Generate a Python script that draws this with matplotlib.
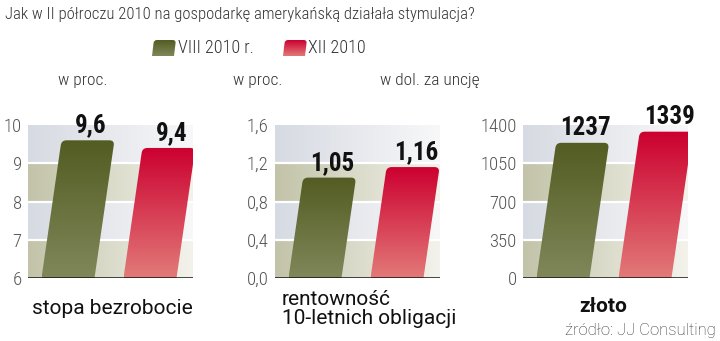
import numpy as np
import matplotlib.pyplot as plt
from matplotlib.path import Path
from matplotlib.patches import PathPatch
from matplotlib.colors import to_rgb
from matplotlib import font_manager
from matplotlib.font_manager import FontProperties

# dane
series = ['VIII 2010 r.', 'XII 2010']
unemployment = [9.6, 9.4]
bond_yield = [1.05, 1.16]
gold = [1237, 1339]

ticks_unemp = [6, 7, 8, 9, 10]
ticks_bond = [0.0, 0.4, 0.8, 1.2, 1.6]
ticks_gold = [0, 350, 700, 1050, 1400]
ticklabels_unemp = ['6', '7', '8', '9', '10']
ticklabels_bond = ['0,0', '0,4', '0,8', '1,2', '1,6']
ticklabels_gold = ['0', '350', '700', '1050', '1400']
value_labels_unemp = ['9,6', '9,4']
value_labels_bond = ['1,05', '1,16']
value_labels_gold = ['1237', '1339']

units = ['w proc.', 'w proc.', 'w dol. za uncję']
categories = ['stopa bezrobocie', 'rentowność\n10-letnich obligacji', 'złoto']
title = 'Jak w II półroczu 2010 na gospodarkę amerykańską działała stymulacja?'
source = 'źródło: JJ Consulting'


def font_ok(name):
    try:
        font_manager.findfont(name, fallback_to_default=False)
        return True
    except Exception:
        return False


# szukamy jakiegos waskiego kroju
if font_ok('Roboto Condensed'):
    NARROW = dict(family='Roboto Condensed')
    COND = True
elif font_ok('Liberation Sans Narrow'):
    NARROW = dict(family='Liberation Sans Narrow')
    COND = True
elif 'Condensed' in font_manager.findfont(FontProperties(family='DejaVu Sans', stretch='condensed')):
    NARROW = dict(family='DejaVu Sans', stretch='condensed')
    COND = True
else:
    NARROW = dict(family='Roboto' if font_ok('Roboto') else 'DejaVu Sans')
    COND = False
REG = 'Roboto' if font_ok('Roboto') else 'DejaVu Sans'

W, H = 720, 341
green = ('#535c22', '#80875a')
red = ('#cc0030', '#e27a78')
band_grey = ('#d6dae2', '#f8f8f9')
band_olive = ('#c2c3a8', '#f3f3ec')


def fx(px):
    return px / W


def fy(py):
    return 1 - py / H


def grad(c1, c2, n=256, horizontal=False):
    a, b = np.array(to_rgb(c1)), np.array(to_rgb(c2))
    t = np.linspace(0, 1, n)[:, None]
    g = a * (1 - t) + b * t
    if horizontal:
        return g[None, :, :]
    return g[:, None, :]


def slanted_bar(ax, cx, by, ty, hw, slant, r, colors):
    # geometria w pikselach ekranu, zamieniana na dane osi
    s = slant * (ty - by)
    bl = np.array([cx - hw, by])
    br = np.array([cx + hw, by])
    tr = np.array([cx + s + hw, ty])
    tl = np.array([cx + s - hw, ty])
    u = np.array([s, ty - by]) / np.hypot(s, ty - by)
    pts = [bl, br, tr - r * u, tr, tr - [r, 0], tl + [r, 0], tl, tl - r * u, bl]
    codes = [Path.MOVETO, Path.LINETO, Path.LINETO, Path.CURVE3, Path.CURVE3,
             Path.LINETO, Path.CURVE3, Path.CURVE3, Path.CLOSEPOLY]
    inv = ax.transData.inverted()
    verts = inv.transform(np.array(pts))
    patch = PathPatch(Path(verts, codes), facecolor='none', edgecolor='none', zorder=2)
    ax.add_patch(patch)
    x0, y0 = inv.transform((cx - hw, by))
    x1, y1 = inv.transform((cx + s + hw, ty))
    im = ax.imshow(grad(*colors), extent=[x0, x1, y0, y1], origin='upper',
                   aspect='auto', interpolation='bicubic', zorder=2)
    im.set_clip_path(patch)


fig = plt.figure(figsize=(W / 100, H / 100), dpi=100)

panels = [
    (unemployment, ticks_unemp, ticklabels_unemp, value_labels_unemp, 28),
    (bond_yield, ticks_bond, ticklabels_bond, value_labels_bond, 275),
    (gold, ticks_gold, ticklabels_gold, value_labels_gold, 523),
]
ax_top, ax_bot, ax_w = 125, 278, 165
step_px, first_px, bar_hw = 82, 40, 26.5

for values, ticks, tlabels, vlabels, left in panels:
    ax = fig.add_axes([fx(left), fy(ax_bot), ax_w / W, (ax_bot - ax_top) / H])
    xmin = -first_px / step_px
    xmax = xmin + ax_w / step_px
    ax.set_xlim(xmin, xmax)
    ax.set_ylim(ticks[0], ticks[-1])

    # tlo w pasy z gradientem
    for i in range(len(ticks) - 1):
        cols = band_olive if i % 2 == 0 else band_grey
        ax.imshow(grad(*cols, horizontal=True), extent=[xmin, xmax, ticks[i], ticks[i + 1]],
                  aspect='auto', interpolation='bicubic', zorder=0)
    for t in ticks[1:-1]:
        ax.axhline(t, color='white', lw=1.6, zorder=1)
    ax.axhline(ticks[0], color='#111111', lw=1.8, zorder=3)
    ax.set_xlim(xmin, xmax)
    ax.set_ylim(ticks[0], ticks[-1])

    for i, v in enumerate(values):
        cx, by = ax.transData.transform((i, ticks[0]))
        _, ty = ax.transData.transform((i, v))
        slanted_bar(ax, cx, by, ty, bar_hw, 0.145, 5, green if i == 0 else red)
        top_x = ax.transData.inverted().transform((cx + 0.145 * (ty - by) + 3, ty))[0]
        ax.annotate(vlabels[i], xy=(top_x, v), xytext=(0, 2), textcoords='offset points',
                    ha='center', va='bottom', fontsize=18 if COND else 16, fontweight='bold',
                    color='#111111', zorder=4, **NARROW)

    ax.set_xticks([])
    ax.set_yticks(ticks)
    ax.set_yticklabels(tlabels, fontsize=13.5 if COND else 11.5, color='#555555',
                       fontweight='light', **NARROW)
    ax.tick_params(axis='y', length=0, pad=4.5)
    for sp in ax.spines.values():
        sp.set_visible(False)

# tytul, legenda, opisy
fig.text(fx(5), fy(15), title, fontsize=12 if COND else 11, fontweight='light', color='#333333',
         va='center', ha='left', **NARROW)

legend_items = [(152, 178, green), (283, 308, red)]
for (sx, tx, cols), name in zip(legend_items, series):
    lax = fig.add_axes([fx(sx - 2), fy(58), 28 / W, 20 / H])
    lax.set_xlim(0, 1)
    lax.set_ylim(0, 1)
    lax.axis('off')
    bx = lax.transData.transform((0, 0))
    slanted_bar(lax, bx[0] + 2 + 11, bx[1] + 2, bx[1] + 18, 11, 0.12, 3, cols)
    fig.text(fx(tx), fy(48), name, fontsize=13 if COND else 12.5, fontweight='light',
             color='#333333', va='center', ha='left', **NARROW)

for u, cx in zip(units, [83, 258, 430]):
    fig.text(fx(cx), fy(80), u, fontsize=12.5, fontweight='light',
             color='#333333', va='center', ha='center', **NARROW)

fig.text(fx(112), fy(308), categories[0], family=REG, fontsize=15, color='#111111',
         va='center', ha='center')
fig.text(fx(282), fy(309), categories[1], family=REG, fontsize=15, color='#111111',
         va='center', ha='left', linespacing=1.05)
fig.text(fx(603), fy(306), categories[2], family=REG, fontsize=15, fontweight='bold',
         color='#111111', va='center', ha='center')
fig.text(fx(716), fy(330), source, family=REG, fontsize=12, fontweight='light', color='#333333',
         va='center', ha='right')

fig.savefig('out.png', dpi=100)
